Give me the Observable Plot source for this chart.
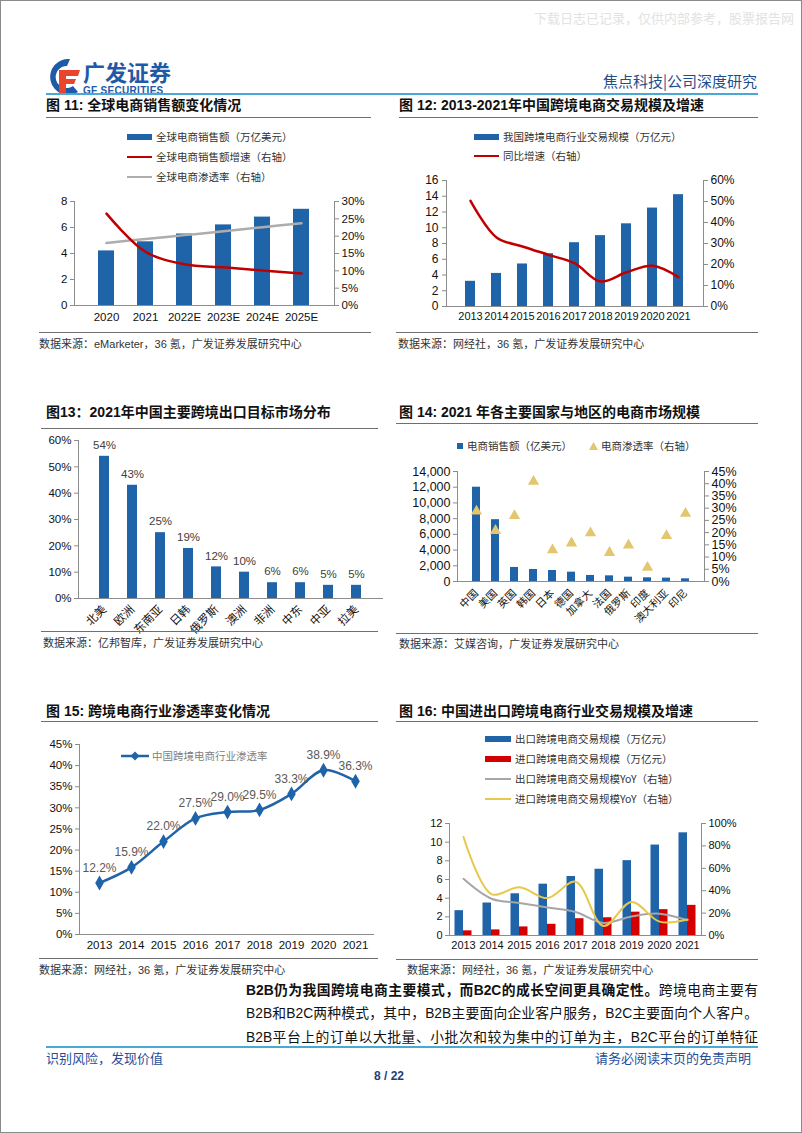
<!DOCTYPE html>
<html><head><meta charset="utf-8">
<script src="https://cdn.jsdelivr.net/npm/d3@7"></script>
<script src="https://cdn.jsdelivr.net/npm/@observablehq/plot@0.6"></script>
<style>
html,body{margin:0;padding:0;background:#fff;}
#page{position:relative;width:802px;height:1133px;box-sizing:border-box;border:1px solid #8a8a8a;overflow:hidden;background:#fff;font-family:"Liberation Sans","Noto Sans CJK SC",sans-serif;}
.abs{position:absolute;white-space:nowrap;}
.title{font-size:14px;line-height:16px;font-weight:bold;color:#111;}
.hr{position:absolute;height:0;border-top:1px solid #6f6f6f;}
.src{font-size:11px;line-height:13px;color:#333;}
.leg{font-size:10.5px;line-height:12px;color:#333;font-family:"Noto Sans CJK SC","Liberation Sans",sans-serif;}
.body{position:absolute;left:245px;width:512px;font-size:13.8px;line-height:18px;color:#111;white-space:nowrap;text-align:justify;text-align-last:justify;font-family:"Liberation Sans","Noto Sans CJK SC",sans-serif;}
</style></head>
<body>
<div id="page">
  <div class="abs" style="left:533px;top:7px;font-size:13px;color:#e2e2e2;">下载日志已记录，仅供内部参考，股票报告网</div>
  <svg class="abs" style="left:45px;top:57px" width="36" height="38" viewBox="0 0 36 38">
    <path d="M24 1 A18 18 0 1 0 32 34 L27 28 A11 11 0 1 1 21 8 Z" fill="#1f5aa6"/>
    <path d="M13 12 H34 L32 18 H20 V21 H30 L28 26 H20 V37 H13 Z" fill="#e8452c"/>
  </svg>
  <div class="abs" style="left:82px;top:57px;font-size:22px;line-height:26px;font-weight:bold;color:#1f5aa6;font-family:'Noto Sans CJK SC';">广发证券</div>
  <div class="abs" style="left:82px;top:84px;font-size:10px;line-height:11px;font-weight:bold;color:#1f5aa6;letter-spacing:0.3px;">GF SECURITIES</div>
  <div class="abs" style="right:44px;top:71px;font-size:15px;line-height:18px;color:#1f4e8c;font-family:'Noto Sans CJK SC';">焦点科技|公司深度研究</div>
  <div class="hr" style="left:45px;top:92px;width:712px;border-top:2px solid #4aa8d8;"></div>

  <!-- row 1 -->
  <div class="abs title" style="left:45px;top:96px;">图 11: 全球电商销售额变化情况</div>
  <div class="abs title" style="left:398px;top:96px;">图 12: 2013-2021年中国跨境电商交易规模及增速</div>
  <div class="hr" style="left:45px;top:116px;width:325px;"></div>
  <div class="hr" style="left:398px;top:116px;width:359px;"></div>

  <div id="leg11"></div>
  <div id="c11" class="abs" style="left:40px;top:190px;"></div>
  <div id="leg12"></div>
  <div id="c12" class="abs" style="left:395px;top:170px;"></div>
  <div class="hr" style="left:38px;top:331px;width:332px;"></div>
  <div class="hr" style="left:395px;top:331px;width:362px;"></div>
  <div class="abs src" style="left:38px;top:337px;">数据来源：eMarketer，36 氪，广发证券发展研究中心</div>
  <div class="abs src" style="left:397px;top:337px;">数据来源：网经社，36 氪，广发证券发展研究中心</div>

  <!-- row 2 -->
  <div class="abs title" style="left:45px;top:403px;">图13：2021年中国主要跨境出口目标市场分布</div>
  <div class="abs title" style="left:398px;top:403px;">图 14: 2021 年各主要国家与地区的电商市场规模</div>
  <div class="hr" style="left:40px;top:427px;width:337px;"></div>
  <div class="hr" style="left:395px;top:422px;width:362px;"></div>
  <div id="c13" class="abs" style="left:40px;top:430px;"></div>
  <div id="leg14"></div>
  <div id="c14" class="abs" style="left:395px;top:460px;"></div>
  <div class="hr" style="left:40px;top:630px;width:337px;"></div>
  <div class="hr" style="left:395px;top:632px;width:362px;"></div>
  <div class="abs src" style="left:42px;top:636px;">数据来源：亿邦智库，广发证券发展研究中心</div>
  <div class="abs src" style="left:398px;top:637px;">数据来源：艾媒咨询，广发证券发展研究中心</div>

  <!-- row 3 -->
  <div class="abs title" style="left:45px;top:702px;">图 15: 跨境电商行业渗透率变化情况</div>
  <div class="abs title" style="left:398px;top:702px;">图 16: 中国进出口跨境电商行业交易规模及增速</div>
  <div class="hr" style="left:40px;top:720px;width:337px;"></div>
  <div class="hr" style="left:395px;top:720px;width:362px;"></div>
  <div id="c15" class="abs" style="left:40px;top:735px;"></div>
  <div id="leg15"></div>
  <div id="leg16"></div>
  <div id="c16" class="abs" style="left:395px;top:815px;"></div>
  <div class="hr" style="left:38px;top:957px;width:339px;"></div>
  <div class="hr" style="left:395px;top:958px;width:362px;"></div>
  <div class="abs src" style="left:38px;top:963px;">数据来源：网经社，36 氪，广发证券发展研究中心</div>
  <div class="abs src" style="left:406px;top:963px;">数据来源：网经社，36 氪，广发证券发展研究中心</div>

  <!-- body text -->
  <div class="body" style="top:981px;"><b>B2B仍为我国跨境电商主要模式，而B2C的成长空间更具确定性。</b>跨境电商主要有</div>
  <div class="body" style="top:1004px;">B2B和B2C两种模式，其中，B2B主要面向企业客户服务，B2C主要面向个人客户。</div>
  <div class="body" style="top:1028px;">B2B平台上的订单以大批量、小批次和较为集中的订单为主，B2C平台的订单特征</div>

  <div class="hr" style="left:45px;top:1045px;width:712px;border-top:2px solid #4aa8d8;"></div>
  <div class="abs" style="left:45px;top:1049px;font-size:13px;line-height:16px;color:#1f4e9a;font-family:'Noto Sans CJK SC';">识别风险，发现价值</div>
  <div class="abs" style="right:50px;top:1049px;font-size:13px;line-height:16px;color:#1f4e9a;font-family:'Noto Sans CJK SC';">请务必阅读末页的免责声明</div>
  <div class="abs" style="left:370px;top:1068px;width:36px;text-align:center;font-size:12px;line-height:14px;font-weight:bold;color:#1f3f7a;">8 / 22</div>
</div>

<script>
// ---------------- data ----------------
const c11Years = ["2020","2021","2022E","2023E","2024E","2025E"];
const c11Sales = [4.2, 4.9, 5.5, 6.2, 6.8, 7.4];          // 万亿美元
const c11Growth = [26.5, 15.5, 11.9, 11.0, 10.1, 9.2];    // %
const c11Pen = [18.0, 19.2, 20.3, 21.4, 22.6, 23.7];      // %

const c12Years = ["2013","2014","2015","2016","2017","2018","2019","2020","2021"];
const c12Scale = [3.2, 4.2, 5.4, 6.7, 8.1, 9.0, 10.5, 12.5, 14.2];
const c12Growth = [50.3, 32.9, 28.6, 24.6, 20.6, 11.9, 16.3, 19.4, 14.0];

const c13Markets = ["北美","欧洲","东南亚","日韩","俄罗斯","澳洲","非洲","中东","中亚","拉美"];
const c13Share = [54, 43, 25, 19, 12, 10, 6, 6, 5, 5];

const c14Countries = ["中国","美国","英国","韩国","日本","德国","加拿大","法国","俄罗斯","印度","澳大利亚","印尼"];
const c14Sales = [12000, 7870, 1790, 1530, 1400, 1190, 770, 720, 550, 470, 430, 340];
const c14Pen = [28.7, 20.8, 26.9, 40.9, 12.9, 15.7, 19.8, 11.8, 14.8, 5.7, 18.7, 27.8];

const c15Years = ["2013","2014","2015","2016","2017","2018","2019","2020","2021"];
const c15Pen = [12.2, 15.9, 22.0, 27.5, 29.0, 29.5, 33.3, 38.9, 36.3];

const c16Years = ["2013","2014","2015","2016","2017","2018","2019","2020","2021"];
const c16Export = [2.66, 3.48, 4.47, 5.5, 6.32, 7.1, 8.02, 9.69, 11.0];
const c16Import = [0.5, 0.6, 0.92, 1.2, 1.8, 1.9, 2.5, 2.77, 3.23];
const c16ExportYoY = [50.6, 32.8, 29.0, 25.0, 21.0, 11.2, 17.0, 19.5, 13.6];
const c16ImportYoY = [88, 37, 43, 33.4, 48, 8.5, 30, 12.4, 14.2];

// ---------------- styles ----------------
const BLUE = "#1f63a8";
const DARKRED = "#c00000";
const AXIS = "#8c8c8c";
const FONT = '"Liberation Sans","Noto Sans CJK SC",sans-serif';
const st = fs => ({fontFamily: FONT, fontSize: fs + "px", color: "#111", background: "transparent", overflow: "visible"});
const pct = k => v => Math.round(v / k) + "%";

function legend(id, items) {
  const host = document.getElementById(id);
  items.forEach(it => {
    const row = document.createElement("div");
    row.className = "abs leg";
    row.style.left = it.x + "px";
    row.style.top = (it.y - 6) + "px";
    row.style.display = "flex";
    row.style.alignItems = "center";
    let sym = "";
    if (it.type === "rect" || it.type === "line") sym = `<span style="display:inline-block;width:${it.w}px;height:${it.h}px;background:${it.c};margin-right:4px"></span>`;
    if (it.type === "tri") sym = `<svg width="9" height="8" style="margin-right:3px"><path d="M4.5 0 L9 8 L0 8Z" fill="${it.c}"/></svg>`;
    if (it.type === "diamondline") sym = `<svg width="28" height="10" style="margin-right:3px"><line x1="0" y1="5" x2="28" y2="5" stroke="${it.c}" stroke-width="2.5"/><path d="M14 0.5 L18.5 5 L14 9.5 L9.5 5Z" fill="${it.c}"/></svg>`;
    row.innerHTML = sym + `<span style="color:${it.tc || '#333'}">${it.t}</span>`;
    host.appendChild(row);
  });
}

// ---------------- chart 11 ----------------
{
  const k = 8 / 30;
  const d = c11Years.map((y, i) => ({year: y, sales: c11Sales[i], g: c11Growth[i], p: c11Pen[i]}));
  document.getElementById("c11").append(Plot.plot({
    width: 320, height: 140, marginLeft: 33, marginRight: 27, marginTop: 10, marginBottom: 26,
    style: st(11.5),
    x: {domain: c11Years, padding: 0.58},
    y: {domain: [0, 8]},
    marks: [
      Plot.barY(d, {x: "year", y: "sales", fill: BLUE}),
      Plot.lineY(d, {x: "year", y: v => v.p * k, stroke: "#adadad", strokeWidth: 2.5, curve: "catmull-rom"}),
      Plot.lineY(d, {x: "year", y: v => v.g * k, stroke: DARKRED, strokeWidth: 2.5, curve: "catmull-rom"}),
      Plot.ruleY([0], {stroke: AXIS}),
      Plot.frame({anchor: "left", stroke: AXIS}),
      Plot.frame({anchor: "right", stroke: AXIS}),
      Plot.axisY([0, 2, 4, 6, 8], {anchor: "left", tickSize: 4, tickPadding: 3, stroke: AXIS, fill: "#111", label: null}),
      Plot.axisY(d3.range(0, 31, 5).map(v => v * k), {anchor: "right", tickSize: 4, tickPadding: 3, stroke: AXIS, fill: "#111", tickFormat: pct(k), label: null}),
      Plot.axisX({tickSize: 0, tickPadding: 7, fill: "#111", label: null})
    ]
  }));
  legend("leg11", [
    {x: 126, y: 136, type: "rect", w: 25, h: 6, c: BLUE, t: "全球电商销售额（万亿美元）"},
    {x: 126, y: 156, type: "line", w: 25, h: 2.5, c: DARKRED, t: "全球电商销售额增速（右轴）"},
    {x: 126, y: 176, type: "line", w: 25, h: 2.5, c: "#adadad", t: "全球电商渗透率（右轴）"}
  ]);
}

// ---------------- chart 12 ----------------
{
  const k = 16 / 60;
  const d = c12Years.map((y, i) => ({year: y, v: c12Scale[i], g: c12Growth[i]}));
  document.getElementById("c12").append(Plot.plot({
    width: 370, height: 160, marginLeft: 50, marginRight: 63, marginTop: 9, marginBottom: 25,
    style: st(12),
    x: {domain: c12Years, padding: 0.6},
    y: {domain: [0, 16]},
    marks: [
      Plot.barY(d, {x: "year", y: "v", fill: BLUE}),
      Plot.lineY(d, {x: "year", y: v => v.g * k, stroke: DARKRED, strokeWidth: 2.5, curve: "catmull-rom"}),
      Plot.ruleY([0], {stroke: AXIS}),
      Plot.frame({anchor: "left", stroke: AXIS}),
      Plot.frame({anchor: "right", stroke: AXIS}),
      Plot.axisY(d3.range(0, 17, 2), {anchor: "left", tickSize: 4, tickPadding: 4, stroke: AXIS, fill: "#111", label: null}),
      Plot.axisY(d3.range(0, 61, 10).map(v => v * k), {anchor: "right", tickSize: 4, tickPadding: 3, stroke: AXIS, fill: "#111", tickFormat: pct(k), label: null}),
      Plot.axisX({tickSize: 0, tickPadding: 6, fontSize: 11, fill: "#111", label: null})
    ]
  }));
  legend("leg12", [
    {x: 473, y: 136, type: "rect", w: 25, h: 6, c: BLUE, t: "我国跨境电商行业交易规模（万亿元）"},
    {x: 473, y: 155, type: "line", w: 25, h: 2.5, c: DARKRED, t: "同比增速（右轴）"}
  ]);
}

// ---------------- chart 13 ----------------
{
  const d = c13Markets.map((m, i) => ({m, v: c13Share[i]}));
  document.getElementById("c13").append(Plot.plot({
    width: 345, height: 200, marginLeft: 37, marginRight: 3, marginTop: 9, marginBottom: 33,
    style: st(11.5),
    x: {domain: c13Markets, padding: 0.63},
    y: {domain: [0, 60]},
    marks: [
      Plot.barY(d, {x: "m", y: "v", fill: BLUE}),
      Plot.text(d, {x: "m", y: "v", text: v => v.v + "%", dy: -11, fill: "#404040", fontSize: 11.5}),
      Plot.ruleY([0], {stroke: AXIS}),
      Plot.frame({anchor: "left", stroke: AXIS}),
      Plot.axisY(d3.range(0, 61, 10), {anchor: "left", tickSize: 4, tickPadding: 3, stroke: AXIS, fill: "#111", tickFormat: v => v + "%", label: null}),
      Plot.axisX({tickSize: 0, tickPadding: 9, tickRotate: -45, fontSize: 11.5, fill: "#111", label: null})
    ]
  }));
}

// ---------------- chart 14 ----------------
{
  const k = 14000 / 45;
  const d = c14Countries.map((c, i) => ({c, v: c14Sales[i], p: c14Pen[i]}));
  document.getElementById("c14").append(Plot.plot({
    width: 370, height: 172, marginLeft: 61, marginRight: 62, marginTop: 10, marginBottom: 52,
    style: st(12.5),
    x: {domain: c14Countries, padding: 0.6},
    y: {domain: [0, 14000]},
    marks: [
      Plot.barY(d, {x: "c", y: "v", fill: BLUE}),
      Plot.dot(d, {x: "c", y: v => v.p * k, symbol: "triangle", r: 4.2, fill: "#e3c66e"}),
      Plot.ruleY([0], {stroke: AXIS}),
      Plot.frame({anchor: "left", stroke: AXIS}),
      Plot.frame({anchor: "right", stroke: AXIS}),
      Plot.axisY(d3.range(0, 14001, 2000), {anchor: "left", tickSize: 4, tickPadding: 3, stroke: AXIS, fill: "#111", tickFormat: d3.format(","), label: null}),
      Plot.axisY(d3.range(0, 46, 5).map(v => v * k), {anchor: "right", tickSize: 4, tickPadding: 3, stroke: AXIS, fill: "#111", tickFormat: pct(k), label: null}),
      Plot.axisX({tickSize: 0, tickPadding: 10, tickRotate: -45, fontSize: 10.5, fill: "#111", label: null})
    ]
  }));
  legend("leg14", [
    {x: 456, y: 445, type: "rect", w: 6, h: 6, c: BLUE, t: "电商销售额（亿美元）"},
    {x: 588, y: 445, type: "tri", c: "#e3c66e", t: "电商渗透率（右轴）"}
  ]);
}

// ---------------- chart 15 ----------------
{
  const d = c15Years.map((y, i) => ({year: y, v: c15Pen[i]}));
  document.getElementById("c15").append(Plot.plot({
    width: 340, height: 222, marginLeft: 38, marginRight: 7, marginTop: 8, marginBottom: 24,
    style: st(11.5),
    x: {type: "point", domain: c15Years, padding: 0.5},
    y: {domain: [0, 45]},
    marks: [
      Plot.ruleY([0], {stroke: AXIS}),
      Plot.frame({anchor: "left", stroke: AXIS}),
      Plot.line(d, {x: "year", y: "v", stroke: BLUE, strokeWidth: 2.5, curve: "catmull-rom"}),
      Plot.dot(d, {x: "year", y: "v", symbol: "diamond", r: 4.5, fill: BLUE}),
      Plot.text(d, {x: "year", y: "v", text: v => v.v.toFixed(1) + "%", dy: -15, fill: "#595959", fontSize: 12}),
      Plot.axisY(d3.range(0, 46, 5), {anchor: "left", tickSize: 4, tickPadding: 3, stroke: AXIS, fill: "#111", tickFormat: v => v + "%", label: null}),
      Plot.axisX({tickSize: 0, tickPadding: 6, fill: "#111", label: null})
    ]
  }));
  legend("leg15", [
    {x: 120, y: 755, type: "diamondline", c: BLUE, t: "中国跨境电商行业渗透率", tc: "#808080"}
  ]);
}

// ---------------- chart 16 ----------------
{
  const k = 12 / 100;
  const d = c16Years.map((y, i) => ({year: y, e: c16Export[i], im: c16Import[i], ey: c16ExportYoY[i], iy: c16ImportYoY[i]}));
  document.getElementById("c16").append(Plot.plot({
    width: 370, height: 143, marginLeft: 53, marginRight: 65, marginTop: 7, marginBottom: 24,
    style: st(11),
    x: {domain: c16Years, padding: 0},
    y: {domain: [0, 12]},
    marks: [
      Plot.barY(d, {x: "year", y: "e", fill: BLUE, insetLeft: 5.5, insetRight: 14}),
      Plot.barY(d, {x: "year", y: "im", fill: "#d40000", insetLeft: 14, insetRight: 5.5}),
      Plot.lineY(d, {x: "year", y: v => v.ey * k, stroke: "#a6a6a6", strokeWidth: 2, curve: "catmull-rom"}),
      Plot.lineY(d, {x: "year", y: v => v.iy * k, stroke: "#e8c84a", strokeWidth: 2, curve: "catmull-rom"}),
      Plot.ruleY([0], {stroke: AXIS}),
      Plot.frame({anchor: "left", stroke: AXIS}),
      Plot.frame({anchor: "right", stroke: AXIS}),
      Plot.axisY(d3.range(0, 13, 2), {anchor: "left", tickSize: 4, tickPadding: 3, stroke: AXIS, fill: "#111", label: null}),
      Plot.axisY(d3.range(0, 101, 20).map(v => v * k), {anchor: "right", tickSize: 4, tickPadding: 3, stroke: AXIS, fill: "#111", tickFormat: pct(k), label: null}),
      Plot.axisX({tickSize: 0, tickPadding: 6, fill: "#111", label: null})
    ]
  }));
  legend("leg16", [
    {x: 484, y: 738, type: "rect", w: 26, h: 6, c: BLUE, t: "出口跨境电商交易规模（万亿元）"},
    {x: 484, y: 758, type: "rect", w: 26, h: 6, c: "#d40000", t: "进口跨境电商交易规模（万亿元）"},
    {x: 484, y: 778, type: "line", w: 26, h: 2, c: "#a6a6a6", t: "出口跨境电商交易规模YoY（右轴）"},
    {x: 484, y: 798, type: "line", w: 26, h: 2, c: "#e8c84a", t: "进口跨境电商交易规模YoY（右轴）"}
  ]);
}
</script>
</body></html>
